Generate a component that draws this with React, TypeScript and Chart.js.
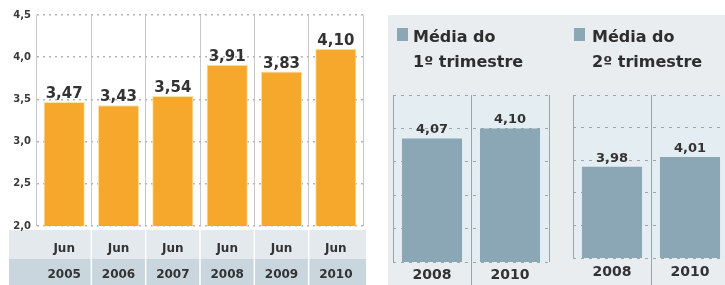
import React, { useEffect, useRef } from 'react';
import { Chart, registerables } from 'chart.js';

Chart.register(...registerables);

// ---------- data ----------
const monthLabels = ['Jun', 'Jun', 'Jun', 'Jun', 'Jun', 'Jun'];
const yearLabels = ['2005', '2006', '2007', '2008', '2009', '2010'];
const rateValues = [3.47, 3.43, 3.54, 3.91, 3.83, 4.1];
const leftTicks = [2.0, 2.5, 3.0, 3.5, 4.0, 4.5];
const leftTickLabels = ['2,0', '2,5', '3,0', '3,5', '4,0', '4,5'];

const q1Years = ['2008', '2010'];
const q1Values = [4.07, 4.1];
const q1Title = ['Média do', '1º trimestre'];

const q2Years = ['2008', '2010'];
const q2Values = [3.98, 4.01];
const q2Title = ['Média do', '2º trimestre'];

const subTicks = [3.7, 3.8, 3.9, 4.0, 4.1, 4.2];

const fmt = (v: number) => v.toFixed(2).replace('.', ',');

const valueLabels = (size: number, gap: number) => ({
  id: 'valueLabels',
  afterDatasetsDraw(chart: any) {
    const ctx = chart.ctx;
    const meta = chart.getDatasetMeta(0);
    ctx.save();
    ctx.font = `bold ${size}px "DejaVu Sans"`;
    ctx.fillStyle = '#333333';
    ctx.textAlign = 'center';
    ctx.textBaseline = 'alphabetic';
    meta.data.forEach((bar: any, i: number) => {
      const v = chart.data.datasets[0].data[i] as number;
      ctx.fillText(fmt(v), bar.x, bar.y - gap);
    });
    ctx.restore();
  },
});

const bandPlugin = {
  id: 'bands',
  beforeDraw(chart: any) {
    const { ctx, chartArea, scales } = chart;
    const x = scales.x;
    const top = chartArea.bottom + 4;
    const mid = top + 29;
    const left = 9;
    const right = chartArea.right + 3;
    ctx.save();
    ctx.fillStyle = '#ffffff';
    ctx.fillRect(0, 0, chart.width, chart.height);
    ctx.fillStyle = '#e4e9ed';
    ctx.fillRect(left, top, right - left, mid - top);
    ctx.fillStyle = '#c9d6de';
    ctx.fillRect(left, mid, right - left, chart.height - mid);
    ctx.strokeStyle = '#ffffff';
    ctx.lineWidth = 1.5;
    const n = chart.data.labels.length;
    for (let i = 0; i < n - 1; i++) {
      const bx = (x.getPixelForValue(i) + x.getPixelForValue(i + 1)) / 2;
      ctx.beginPath();
      ctx.moveTo(bx, top);
      ctx.lineTo(bx, chart.height);
      ctx.stroke();
    }
    ctx.restore();
  },
};

const subPlugin = {
  id: 'subBg',
  beforeDraw(chart: any) {
    const { ctx, chartArea } = chart;
    ctx.save();
    ctx.fillStyle = '#e4edf2';
    ctx.fillRect(chartArea.left, chartArea.top, chartArea.right - chartArea.left, chartArea.bottom - chartArea.top);
    ctx.restore();
  },
  afterDraw(chart: any) {
    const { ctx, chartArea, scales } = chart;
    const x = scales.x;
    const bx = (x.getPixelForValue(0) + x.getPixelForValue(1)) / 2;
    ctx.save();
    ctx.strokeStyle = '#9ca4a9';
    ctx.lineWidth = 1;
    ctx.beginPath();
    ctx.moveTo(Math.round(bx) + 0.5, chartArea.bottom);
    ctx.lineTo(Math.round(bx) + 0.5, chart.height);
    ctx.stroke();
    ctx.restore();
  },
};

function makeLeft(canvas: HTMLCanvasElement) {
  return new Chart(canvas, {
    type: 'bar',
    data: {
      labels: monthLabels.map((m, i) => [m, yearLabels[i]]),
      datasets: [
        {
          data: rateValues,
          backgroundColor: '#f5a82c',
          borderColor: '#fde6a2',
          borderWidth: 1,
          barPercentage: 0.76,
          categoryPercentage: 1,
        },
      ],
    },
    options: {
      responsive: false,
      animation: false,
      events: [],
      layout: { padding: { top: 15, right: 3, left: 0, bottom: 0 } },
      plugins: { legend: { display: false }, tooltip: { enabled: false } },
      scales: {
        x: {
          grid: { color: '#c8c8c8', lineWidth: 1, drawTicks: false, offset: true },
          border: { display: false },
          ticks: {
            font: { family: 'DejaVu Sans', weight: 'bold', size: 12, lineHeight: 26 / 12 },
            color: '#333333',
            padding: 10,
            maxRotation: 0,
            autoSkip: false,
          },
          afterFit: (s: any) => {
            s.height = 59;
          },
        },
        y: {
          min: 2,
          max: 4.5,
          afterBuildTicks: (s: any) => {
            s.ticks = leftTicks.map((v) => ({ value: v }));
          },
          ticks: {
            callback: (_v: any, i: number) => leftTickLabels[i],
            font: { family: 'DejaVu Sans', weight: 'bold', size: 10 },
            color: '#3a3a3a',
            padding: 6,
          },
          grid: { color: '#b4b4b4', lineWidth: 1.5, drawTicks: false },
          border: { display: false, dash: [2, 4] },
          afterFit: (s: any) => {
            s.width = 37;
          },
        },
      },
    } as any,
    plugins: [bandPlugin, valueLabels(15, 4)],
  });
}

function makeSub(canvas: HTMLCanvasElement, labels: string[], values: number[], padLeft: number, axisH: number, labelPad: number) {
  return new Chart(canvas, {
    type: 'bar',
    data: {
      labels,
      datasets: [
        {
          data: values,
          backgroundColor: '#8ba6b5',
          barPercentage: 0.77,
          categoryPercentage: 1,
        },
      ],
    },
    options: {
      responsive: false,
      animation: false,
      events: [],
      layout: { padding: { top: 95, right: 9, left: padLeft, bottom: 0 } },
      plugins: { legend: { display: false }, tooltip: { enabled: false } },
      scales: {
        x: {
          grid: { color: '#9ca4a9', lineWidth: 1, drawTicks: false, offset: true },
          border: { display: false },
          ticks: {
            font: { family: 'DejaVu Sans', weight: 'bold', size: 14, lineHeight: 1.2 },
            color: '#333333',
            padding: labelPad,
            maxRotation: 0,
          },
          afterFit: (s: any) => {
            s.height = axisH;
          },
        },
        y: {
          min: 3.7,
          max: 4.2,
          afterBuildTicks: (s: any) => {
            s.ticks = subTicks.map((v) => ({ value: v }));
          },
          ticks: { display: false },
          grid: { color: '#9ea5aa', lineWidth: 1, drawTicks: false },
          border: { display: false, dash: [3, 5] },
          afterFit: (s: any) => {
            s.width = 0;
          },
        },
      },
    } as any,
    plugins: [subPlugin, valueLabels(13, 5)],
  });
}

const titleStyle: React.CSSProperties = {
  position: 'absolute',
  top: 24,
  fontFamily: '"DejaVu Sans", sans-serif',
  fontWeight: 'bold',
  fontSize: 16,
  lineHeight: '25px',
  color: '#2e2e2e',
  whiteSpace: 'nowrap',
};

export default function App() {
  const leftRef = useRef<HTMLCanvasElement>(null);
  const q1Ref = useRef<HTMLCanvasElement>(null);
  const q2Ref = useRef<HTMLCanvasElement>(null);

  useEffect(() => {
    const charts: Chart[] = [];
    if (leftRef.current) charts.push(makeLeft(leftRef.current));
    if (q1Ref.current) charts.push(makeSub(q1Ref.current, q1Years, q1Values, 5, 23, 4.6));
    if (q2Ref.current) charts.push(makeSub(q2Ref.current, q2Years, q2Values, 15, 27, 5.6));
    return () => charts.forEach((c) => c.destroy());
  }, []);

  return (
    <div
      style={{
        position: 'absolute',
        left: 0,
        top: 0,
        width: 725,
        height: 285,
        overflow: 'hidden',
        background: '#ffffff',
      }}
    >
      <div style={{ position: 'absolute', left: 388, top: 15, width: 337, height: 270, background: '#e9edf0' }} />
      <canvas ref={leftRef} width={366} height={285} style={{ position: 'absolute', left: 0, top: 0 }} />
      <canvas ref={q1Ref} width={170} height={285} style={{ position: 'absolute', left: 388, top: 0 }} />
      <canvas ref={q2Ref} width={180} height={285} style={{ position: 'absolute', left: 558, top: 0 }} />
      <div style={{ position: 'absolute', left: 397, top: 28, width: 11, height: 13, background: '#8ba6b5' }} />
      <div style={{ ...titleStyle, left: 413 }}>
        {q1Title[0]}
        <br />
        {q1Title[1]}
      </div>
      <div style={{ position: 'absolute', left: 574, top: 28, width: 11, height: 13, background: '#8ba6b5' }} />
      <div style={{ ...titleStyle, left: 592 }}>
        {q2Title[0]}
        <br />
        {q2Title[1]}
      </div>
    </div>
  );
}
